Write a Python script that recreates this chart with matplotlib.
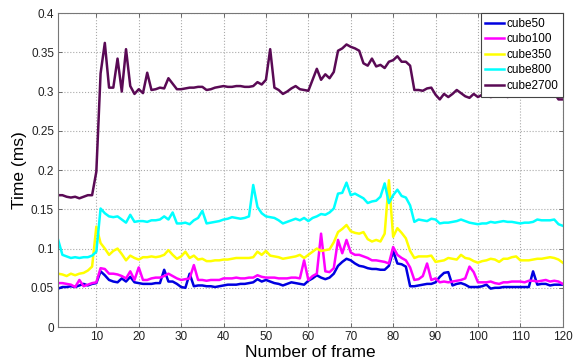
import matplotlib
matplotlib.use("Agg")
from matplotlib import pyplot as plt
from matplotlib.ticker import FormatStrFormatter

plt.rcParams['font.family'] = ['Liberation Sans', 'DejaVu Sans']

# 数据：每帧耗时 (ms)，帧号 1..120
frames = list(range(1, 121))

cube50 = [
    0.049, 0.051, 0.051, 0.052, 0.051, 0.053, 0.055, 0.053, 0.055, 0.056,
    0.071, 0.066, 0.060, 0.058, 0.057, 0.062, 0.058, 0.064, 0.057, 0.056,
    0.055, 0.055, 0.055, 0.056, 0.056, 0.073, 0.058, 0.058, 0.055, 0.051,
    0.050, 0.068, 0.052, 0.053, 0.053, 0.052, 0.052, 0.051, 0.052, 0.053,
    0.054, 0.054, 0.054, 0.055, 0.055, 0.056, 0.057, 0.061, 0.058, 0.060,
    0.058, 0.056, 0.055, 0.053, 0.055, 0.057, 0.056, 0.055, 0.054, 0.059,
    0.062, 0.066, 0.063, 0.061, 0.063, 0.068, 0.078, 0.083, 0.087, 0.085,
    0.081, 0.078, 0.077, 0.075, 0.074, 0.074, 0.073, 0.073, 0.078, 0.097,
    0.081, 0.080, 0.077, 0.052, 0.052, 0.053, 0.054, 0.055, 0.055, 0.057,
    0.064, 0.069, 0.070, 0.053, 0.055, 0.056, 0.054, 0.051, 0.051, 0.051,
    0.052, 0.054, 0.049, 0.050, 0.050, 0.051, 0.051, 0.051, 0.051, 0.051,
    0.051, 0.051, 0.071, 0.054, 0.055, 0.055, 0.053, 0.054, 0.054, 0.054,
]

cubo100 = [
    0.056, 0.056, 0.055, 0.054, 0.051, 0.060, 0.052, 0.054, 0.056, 0.057,
    0.075, 0.074, 0.068, 0.068, 0.067, 0.065, 0.062, 0.071, 0.060, 0.076,
    0.060, 0.060, 0.062, 0.063, 0.063, 0.065, 0.068, 0.065, 0.062, 0.060,
    0.061, 0.062, 0.079, 0.060, 0.060, 0.059, 0.060, 0.060, 0.060, 0.062,
    0.062, 0.062, 0.063, 0.062, 0.062, 0.063, 0.063, 0.066, 0.064, 0.063,
    0.063, 0.063, 0.062, 0.062, 0.062, 0.063, 0.063, 0.062, 0.085, 0.060,
    0.065, 0.068, 0.119, 0.071, 0.070, 0.075, 0.111, 0.094, 0.111, 0.095,
    0.092, 0.092, 0.090, 0.088, 0.085, 0.085, 0.084, 0.083, 0.081, 0.102,
    0.092, 0.088, 0.085, 0.076, 0.060, 0.061, 0.065, 0.081, 0.060, 0.062,
    0.057, 0.058, 0.057, 0.058, 0.059, 0.060, 0.062, 0.077, 0.070, 0.057,
    0.057, 0.057, 0.058, 0.056, 0.055, 0.057, 0.057, 0.058, 0.058, 0.058,
    0.057, 0.059, 0.059, 0.058, 0.059, 0.060, 0.058, 0.059, 0.058, 0.055,
]

cube350 = [
    0.068, 0.067, 0.065, 0.068, 0.066, 0.068, 0.069, 0.072, 0.077, 0.128,
    0.107, 0.100, 0.092, 0.097, 0.100, 0.093, 0.085, 0.091, 0.088, 0.086,
    0.089, 0.089, 0.090, 0.089, 0.090, 0.092, 0.098, 0.092, 0.087, 0.090,
    0.096, 0.088, 0.091, 0.086, 0.087, 0.084, 0.084, 0.085, 0.085, 0.086,
    0.086, 0.087, 0.088, 0.088, 0.088, 0.088, 0.089, 0.096, 0.092, 0.097,
    0.091, 0.090, 0.089, 0.087, 0.088, 0.089, 0.090, 0.092, 0.088, 0.092,
    0.096, 0.100, 0.097, 0.098, 0.099, 0.108, 0.121, 0.125, 0.130, 0.122,
    0.120, 0.119, 0.121, 0.112, 0.109, 0.111, 0.109, 0.119, 0.187, 0.115,
    0.126, 0.120, 0.113, 0.097, 0.088, 0.090, 0.090, 0.090, 0.091, 0.083,
    0.084, 0.085, 0.088, 0.087, 0.086, 0.092, 0.088, 0.087, 0.084, 0.082,
    0.084, 0.085, 0.087, 0.086, 0.083, 0.087, 0.087, 0.089, 0.090, 0.085,
    0.085, 0.085, 0.086, 0.087, 0.087, 0.088, 0.089, 0.088, 0.086, 0.082,
]

cube800 = [
    0.111, 0.092, 0.090, 0.088, 0.089, 0.088, 0.089, 0.089, 0.091, 0.096,
    0.151, 0.145, 0.141, 0.140, 0.141, 0.137, 0.133, 0.143, 0.134, 0.135,
    0.135, 0.134, 0.136, 0.136, 0.137, 0.141, 0.137, 0.146, 0.132, 0.132,
    0.133, 0.131, 0.136, 0.139, 0.148, 0.132, 0.133, 0.134, 0.135, 0.137,
    0.138, 0.140, 0.139, 0.138, 0.139, 0.141, 0.181, 0.153, 0.145, 0.141,
    0.140, 0.139, 0.136, 0.132, 0.134, 0.136, 0.138, 0.136, 0.139, 0.135,
    0.139, 0.141, 0.144, 0.143, 0.146, 0.151, 0.170, 0.171, 0.184, 0.168,
    0.170, 0.167, 0.164, 0.158, 0.160, 0.161, 0.166, 0.183, 0.158, 0.168,
    0.175, 0.167, 0.165, 0.155, 0.134, 0.137, 0.136, 0.135, 0.138, 0.137,
    0.132, 0.133, 0.133, 0.134, 0.135, 0.137, 0.135, 0.133, 0.132, 0.131,
    0.132, 0.132, 0.134, 0.133, 0.134, 0.135, 0.134, 0.134, 0.133, 0.132,
    0.133, 0.133, 0.134, 0.137, 0.136, 0.136, 0.136, 0.137, 0.131, 0.129,
]

cube2700 = [
    0.168, 0.168, 0.166, 0.165, 0.166, 0.164, 0.166, 0.168, 0.168, 0.198,
    0.323, 0.362, 0.305, 0.305, 0.342, 0.300, 0.354, 0.307, 0.297, 0.303,
    0.298, 0.324, 0.302, 0.303, 0.305, 0.304, 0.317, 0.310, 0.303, 0.303,
    0.304, 0.305, 0.305, 0.306, 0.306, 0.302, 0.303, 0.305, 0.306, 0.307,
    0.306, 0.306, 0.307, 0.307, 0.306, 0.306, 0.307, 0.312, 0.309, 0.315,
    0.354, 0.305, 0.302, 0.297, 0.300, 0.304, 0.307, 0.303, 0.302, 0.301,
    0.315, 0.329, 0.315, 0.322, 0.317, 0.325, 0.352, 0.355, 0.360, 0.357,
    0.355, 0.352, 0.336, 0.333, 0.342, 0.332, 0.334, 0.330, 0.338, 0.340,
    0.345, 0.338, 0.338, 0.333, 0.302, 0.302, 0.301, 0.304, 0.305, 0.296,
    0.290, 0.297, 0.293, 0.297, 0.302, 0.298, 0.294, 0.292, 0.297, 0.293,
    0.296, 0.295, 0.293, 0.294, 0.295, 0.296, 0.293, 0.296, 0.295, 0.297,
    0.296, 0.298, 0.297, 0.298, 0.300, 0.300, 0.300, 0.298, 0.290, 0.290,
]

series = [
    ("cube50", cube50, "#0000e0"),
    ("cubo100", cubo100, "#ff00ff"),
    ("cube350", cube350, "#ffff00"),
    ("cube800", cube800, "#00ffff"),
    ("cube2700", cube2700, "#5a0a55"),
]

x_ticks = list(range(10, 121, 10))
y_ticks = [0, 0.05, 0.1, 0.15, 0.2, 0.25, 0.3, 0.35, 0.4]

fig = plt.figure(figsize=(5.76, 3.63), dpi=100)
ax = fig.add_axes([0.101, 0.099, 0.876, 0.865])

for name, vals, color in series:
    ax.plot(frames, vals, color=color, linewidth=1.8, label=name)

ax.set_xlim(1, 120)
ax.set_ylim(0, 0.4)
ax.set_xticks(x_ticks)
ax.set_yticks(y_ticks)
ax.yaxis.set_major_formatter(FormatStrFormatter('%g'))

# MATLAB 风格：刻度朝内，四边都有刻度，虚线网格
ax.tick_params(direction="in", length=3, width=0.6, top=True, right=True,
               labelsize=8.5, colors="#555555", labelcolor="#222222", pad=3)
ax.grid(True, linestyle=":", color="#aaaaaa", linewidth=0.8)
for sp in ax.spines.values():
    sp.set_color("#777777")
    sp.set_linewidth(0.8)

ax.set_xlabel("Number of frame", fontsize=12.5, labelpad=1)
ax.set_ylabel("Time (ms)", fontsize=12.5, labelpad=3)

leg = ax.legend(loc="upper right", fontsize=8.5, fancybox=False, edgecolor="#444444",
                framealpha=1, borderaxespad=0, handlelength=1.6, handletextpad=0.15,
                labelspacing=0.3, borderpad=0.4)
leg.get_frame().set_linewidth(0.8)

fig.savefig("out.png", dpi=100)
